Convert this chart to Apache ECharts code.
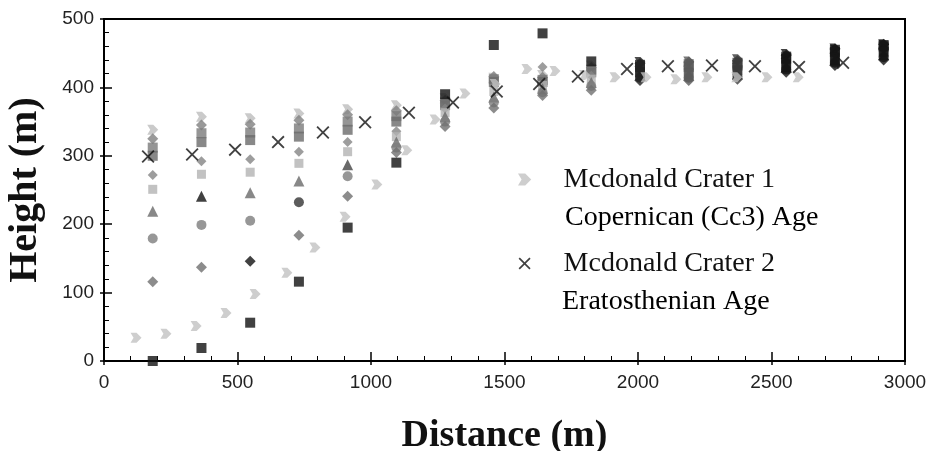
<!DOCTYPE html>
<html>
<head>
<meta charset="utf-8">
<script src="https://cdn.jsdelivr.net/npm/echarts@6/dist/echarts.min.js"></script>
<style>
  html, body { margin: 0; padding: 0; background: #fff; }
  #chart { width: 927px; height: 451px; }
</style>
</head>
<body>
<div id="chart"></div>
<script>
// Profile stations along the crater floor (m)
const columnX = [182.5, 365, 547.5, 730, 912.5, 1095, 1277.5, 1460, 1642.5, 1825, 2007.5, 2190, 2372.5, 2555, 2737.5, 2920];

// Height (m) of each profile at every station
const profileA = [0, 19, 56, 116, 195, 290, 390, 462, 479, 438, 422, 420, 425, 430, 440, 452];
const profileB = [116, 137, 146, 184, 241, 305, 343, 370, 388, 396, 410, 410, 412, 422, 432, 440];
const profileC = [179, 199, 205, 232, 270, 312, 350, 378, 393, 402, 414, 414, 416, 426, 436, 444];
const profileD = [219, 241, 246, 263, 287, 320, 357, 386, 398, 407, 418, 418, 420, 430, 440, 448];
const profileE = [251, 273, 276, 289, 306, 328, 363, 394, 403, 412, 422, 422, 424, 434, 444, 452];
const profileF = [272, 292, 295, 306, 320, 336, 369, 402, 430, 417, 426, 426, 428, 438, 448, 456];
const profileG = [300, 320, 323, 328, 338, 350, 374, 408, 408, 422, 430, 430, 432, 442, 452, 460];
const profileH = [312, 333, 334, 340, 350, 358, 378, 412, 411, 426, 433, 434, 436, 445, 455, 462];
const profileI = [325, 345, 346, 352, 360, 366, 381, 416, 415, 429, 435, 437, 439, 447, 456, 463];
const profileJ = [338, 357, 355, 362, 368, 374, 384, 414, 418, 432, 437, 438, 441, 449, 457, 463];

// Mcdonald Crater 1 (Copernican) profile
const crater1X = [120, 232, 345, 457, 566, 685, 790, 903, 1022, 1134, 1240, 1352, 1465, 1584, 1689, 1800, 1914, 2030, 2142, 2258, 2370, 2483, 2600];
const crater1H = [34, 40, 51, 70, 98, 129, 166, 211, 258, 308, 353, 391, 405, 427, 424, 418, 415, 415, 412, 415, 415, 415, 415];

// Mcdonald Crater 2 (Eratosthenian) profile
const crater2X = [165, 330, 491, 652, 820, 978, 1142, 1307, 1471, 1630, 1775, 1959, 2112, 2277, 2438, 2603, 2768];
const crater2H = [299, 302, 309, 320, 334, 349, 363, 378, 394, 405, 416, 427, 431, 432, 431, 430, 436];

const xTicks = { min: 0, max: 3000, step: 500 };
const yTicks = { min: 0, max: 500, step: 100 };

// Legend entries: series name and the age line printed under it
const legendNames = ['Mcdonald Crater 1', 'Mcdonald Crater 2'];
const legendAges = ['Copernican (Cc3) Age', 'Eratosthenian Age'];

// Darker shading of the stacked markers on the far stations
const columnTone = [null, null, null, null, null, null, null, null, null, null,
  '#222', '#5a5a5a', '#3a3a3a', '#151515', '#151515', '#151515'];

const arrowSymbol = 'path://M0,0 L6,0 L11,5 L6,10 L0,10 L3,5 Z';
const crossSymbol = 'path://M0,1 L1,0 L5,4 L9,0 L10,1 L6,5 L10,9 L9,10 L5,6 L1,10 L0,9 L4,5 Z';

function pairs(xs, ys) { return xs.map((x, i) => [x, ys[i]]); }

function profileSeries(values, symbol, size, color, overrides) {
  return {
    type: 'scatter',
    data: pairs(columnX, values),
    symbol: symbol,
    symbolSize: size,
    itemStyle: {
      color: function (p) {
        if (overrides && overrides[p.dataIndex]) return overrides[p.dataIndex];
        return columnTone[p.dataIndex] || color;
      }
    },
    silent: true,
    z: 2
  };
}

const serif = "'Liberation Serif', 'Times New Roman', serif";
const tickFont = "'Liberation Sans Narrow', 'Liberation Sans', sans-serif";

const series = [
  profileSeries(profileJ, arrowSymbol, [11, 10], '#bdbdbd'),
  profileSeries(profileI, 'diamond', 11, '#808080'),
  profileSeries(profileH, 'rect', 10, '#7a7a7a'),
  profileSeries(profileG, 'rect', 10, '#6a6a6a'),
  profileSeries(profileF, 'diamond', 10, '#858585'),
  profileSeries(profileE, 'rect', 9, '#b3b3b3'),
  profileSeries(profileD, 'triangle', 11, '#6a6a6a', { 1: '#111', 4: '#444' }),
  profileSeries(profileC, 'circle', 10, '#7d7d7d', { 3: '#333' }),
  profileSeries(profileB, 'diamond', 11, '#6f6f6f', { 2: '#111' }),
  profileSeries(profileA, 'rect', 10, '#111'),
  {
    name: legendNames[0],
    type: 'scatter',
    data: pairs(crater1X, crater1H),
    symbol: arrowSymbol,
    symbolSize: [11, 10],
    itemStyle: { color: '#c2c2c2' },
    z: 3
  },
  {
    name: legendNames[1],
    type: 'scatter',
    data: pairs(crater2X, crater2H),
    symbol: crossSymbol,
    symbolSize: 13,
    itemStyle: { color: '#111' },
    z: 4
  }
];

const legendFont = { fontFamily: serif, fontSize: 28, lineHeight: 37, color: '#111' };

// Short outward stubs at the major ticks (the main axes carry the inward ticks)
function stubAxis(ticks, position) {
  return {
    type: 'value', position: position,
    min: ticks.min, max: ticks.max, interval: ticks.step,
    axisLine: { show: false },
    axisTick: { show: true, inside: false, length: 4, lineStyle: { color: '#000', width: 1.5 } },
    axisLabel: { show: false },
    splitLine: { show: false },
    silent: true
  };
}

const option = {
  animation: false,
  backgroundColor: '#fff',
  grid: {
    left: 104, right: 22, top: 19, bottom: 90,
    outerBoundsMode: 'none',
    show: true, borderColor: '#000', borderWidth: 2, backgroundColor: 'transparent'
  },
  legend: {
    orient: 'vertical',
    data: [
      { name: legendNames[0], icon: arrowSymbol },
      { name: legendNames[1], icon: crossSymbol }
    ],
    left: 518, top: 161, padding: 0,
    itemWidth: 14, itemHeight: 12,
    itemGap: 47,
    selectedMode: false,
    formatter: name => '{gap|}{t|' + name + '}',
    textStyle: Object.assign({ rich: { gap: { width: 27 }, t: legendFont } }, legendFont)
  },
  graphic: [
    { type: 'text', left: 565, top: 199, style: Object.assign({ text: legendAges[0] }, legendFont), silent: true },
    { type: 'text', left: 562, top: 283, style: Object.assign({ text: legendAges[1] }, legendFont), silent: true }
  ],
  xAxis: [
    {
      type: 'value',
      min: xTicks.min, max: xTicks.max, interval: xTicks.step,
      name: 'Distance (m)',
      nameLocation: 'middle',
      nameGap: 56,
      nameTextStyle: { fontFamily: serif, fontWeight: 'bold', fontSize: 38, color: '#111' },
      axisLine: { onZero: false, lineStyle: { color: '#000', width: 2 } },
      axisTick: { inside: true, length: 9, lineStyle: { color: '#000', width: 1.5 } },
      minorTick: { show: true, splitNumber: 5, length: 5, lineStyle: { color: '#000', width: 1 } },
      splitLine: { show: false },
      axisLabel: { margin: 12, fontFamily: tickFont, fontSize: 19, color: '#222', formatter: v => String(v) }
    },
    stubAxis(xTicks, 'bottom')
  ],
  yAxis: [
    {
      type: 'value',
      min: yTicks.min, max: yTicks.max, interval: yTicks.step,
      name: 'Height (m)',
      nameLocation: 'middle',
      nameGap: 58,
      nameTextStyle: { fontFamily: serif, fontWeight: 'bold', fontSize: 40, color: '#111' },
      axisLine: { onZero: false, lineStyle: { color: '#000', width: 2 } },
      axisTick: { inside: true, length: 8, lineStyle: { color: '#000', width: 1.5 } },
      minorTick: { show: true, splitNumber: 5, length: 5, lineStyle: { color: '#000', width: 1 } },
      splitLine: { show: false },
      axisLabel: { margin: 10, fontFamily: tickFont, fontSize: 19, color: '#222', formatter: v => String(v) }
    },
    stubAxis(yTicks, 'left')
  ],
  series: series
};

const chart = echarts.init(document.getElementById('chart'), null, { renderer: 'canvas' });
chart.setOption(option);
</script>
</body>
</html>
